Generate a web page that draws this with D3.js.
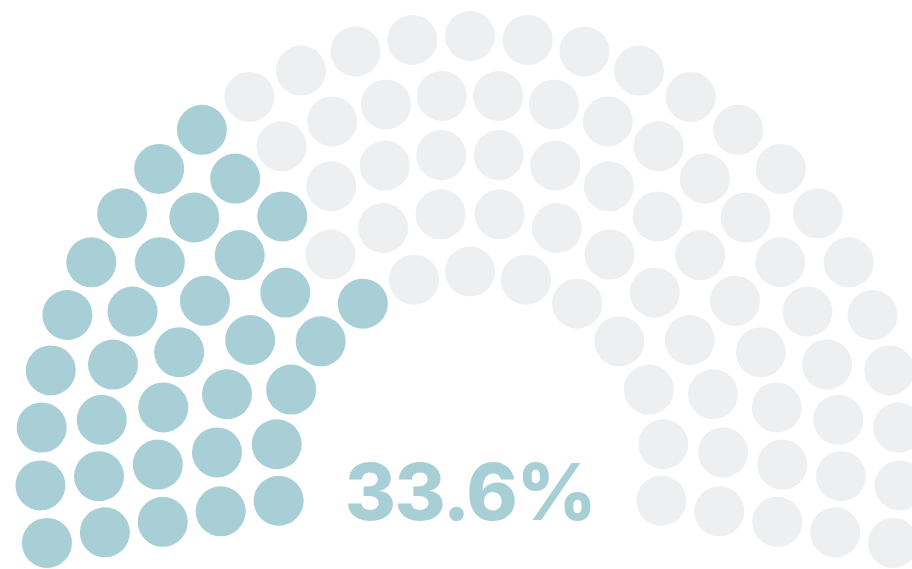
<!DOCTYPE html>
<html>
<head>
<meta charset="utf-8">
<script src="https://cdn.jsdelivr.net/npm/d3@7"></script>
<style>
  html, body { margin: 0; padding: 0; background: #fff; }
</style>
</head>
<body>
<div id="chart"></div>
<script>
// Share shown, total seats and how many seats sit in each row (inner -> outer).
let share = [33.6];
let totalSeats = [100];
let rowSeats = [13, 16, 20, 24, 27];
let colors = ["#a8ced6", "#eeeff1"];

let width = 912,
  height = 569,
  cx = 470,
  cy = 466,
  dotRadius = 25;

let svg = d3.select("#chart").append("svg")
  .attr("width", width)
  .attr("height", height);

let radius = d3.scaleLinear()
  .domain([0, rowSeats.length - 1])
  .range([194.5, 430]);

// The arc runs a little past the horizontal on both sides.
let overhang = 10.3 * Math.PI / 180;

let seats = [];
rowSeats.forEach((n, row) => {
  let frac = d3.scaleLinear().domain([0, n - 1]).range([0, 1]);
  d3.range(n).forEach((k) => {
    seats.push({row: row, frac: frac(k)});
  });
});
// left to right, inner rows first on ties
seats.sort((a, b) => a.frac - b.frac || a.row - b.row);

let filled = Math.round(totalSeats[0] * share[0] / 100);
let angle = d3.scaleLinear()
  .domain([0, 1])
  .range([Math.PI + overhang, -overhang]);

svg.append("g")
  .selectAll("circle")
  .data(seats)
  .enter().append("circle")
  .attr("cx", (d) => cx + radius(d.row) * Math.cos(angle(d.frac)))
  .attr("cy", (d) => cy - radius(d.row) * Math.sin(angle(d.frac)))
  .attr("r", dotRadius)
  .style("fill", (d, i) => i < filled ? colors[0] : colors[1]);

svg.append("text")
  .attr("x", cx)
  .attr("y", 520)
  .attr("text-anchor", "middle")
  .style("font-family", "Inter, 'Open Sans', sans-serif")
  .style("font-weight", 800)
  .style("font-size", "78px")
  .style("letter-spacing", "-1.5px")
  .style("fill", colors[0])
  .text(share[0].toFixed(1) + "%");
</script>
</body>
</html>
